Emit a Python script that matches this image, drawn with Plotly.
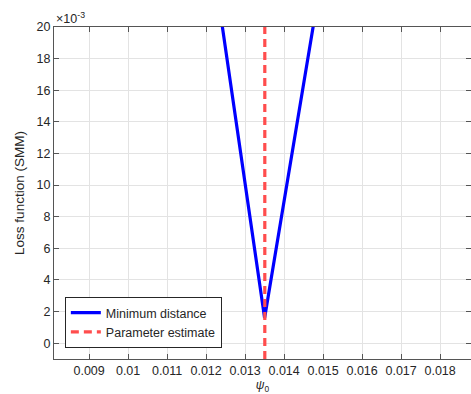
import plotly.graph_objects as go

# SMM loss evaluated over the psi_0 grid
psi_grid = [0.0120, 0.0135, 0.0150]
loss_values = [0.0271, 0.0016, 0.0238]

# Point estimate of psi_0
psi_estimate = 0.013505

y_tick_vals = [0, 0.002, 0.004, 0.006, 0.008, 0.010, 0.012, 0.014, 0.016, 0.018, 0.020]
y_tick_text = ["0", "2", "4", "6", "8", "10", "12", "14", "16", "18", "20"]
x_tick_vals = [0.009, 0.010, 0.011, 0.012, 0.013, 0.014, 0.015, 0.016, 0.017, 0.018]
x_tick_text = ["0.009", "0.01", "0.011", "0.012", "0.013", "0.014", "0.015", "0.016", "0.017", "0.018"]

y_range = [-0.001, 0.020]
x_range = [0.0081, 0.018792]

fig = go.Figure()
fig.add_trace(go.Scatter(
    x=psi_grid, y=loss_values, mode="lines", name="Minimum distance",
    line=dict(color="#0000ff", width=3.2),
))
fig.add_trace(go.Scatter(
    x=[psi_estimate, psi_estimate], y=y_range, mode="lines", name="Parameter estimate",
    line=dict(color="#ff4d4d", width=3.2, dash="8px,5px"),
))

axis_common = dict(
    showgrid=True, gridcolor="#e3e3e3", gridwidth=1,
    showline=True, linecolor="#555555", linewidth=1.2, mirror="ticks",
    ticks="inside", ticklen=5, tickcolor="#555555",
    tickfont=dict(family="Liberation Sans, Arial, sans-serif", size=12.5, color="#262626"),
    zeroline=False,
)

fig.update_layout(
    width=471, height=394,
    margin=dict(l=54, r=0, t=27, b=35),
    paper_bgcolor="white", plot_bgcolor="white",
    font=dict(family="Liberation Sans, Arial, sans-serif", color="#262626"),
    xaxis=dict(range=x_range, tickvals=x_tick_vals, ticktext=x_tick_text,
               title=dict(text="<i>ψ</i><sub>0</sub>", font=dict(size=12, color="#262626"),
                          standoff=6),
               **axis_common),
    yaxis=dict(range=y_range, tickvals=y_tick_vals, ticktext=y_tick_text,
               title=dict(text="Loss function (SMM)", font=dict(size=13.5, color="#262626"),
                          standoff=8),
               **axis_common),
    legend=dict(
        x=0.026, y=0.033, xanchor="left", yanchor="bottom",
        bgcolor="white", bordercolor="#262626", borderwidth=1,
        font=dict(size=12.5, color="#262626"),
        tracegroupgap=0, itemwidth=30,
    ),
    showlegend=True,
)

fig.add_annotation(
    x=0, y=1, xref="paper", yref="paper", xanchor="left", yanchor="bottom",
    text="×10<sup>-3</sup>", showarrow=False, xshift=0, yshift=-1,
    font=dict(size=12.5, color="#262626"),
)

fig.write_html("out.html")
